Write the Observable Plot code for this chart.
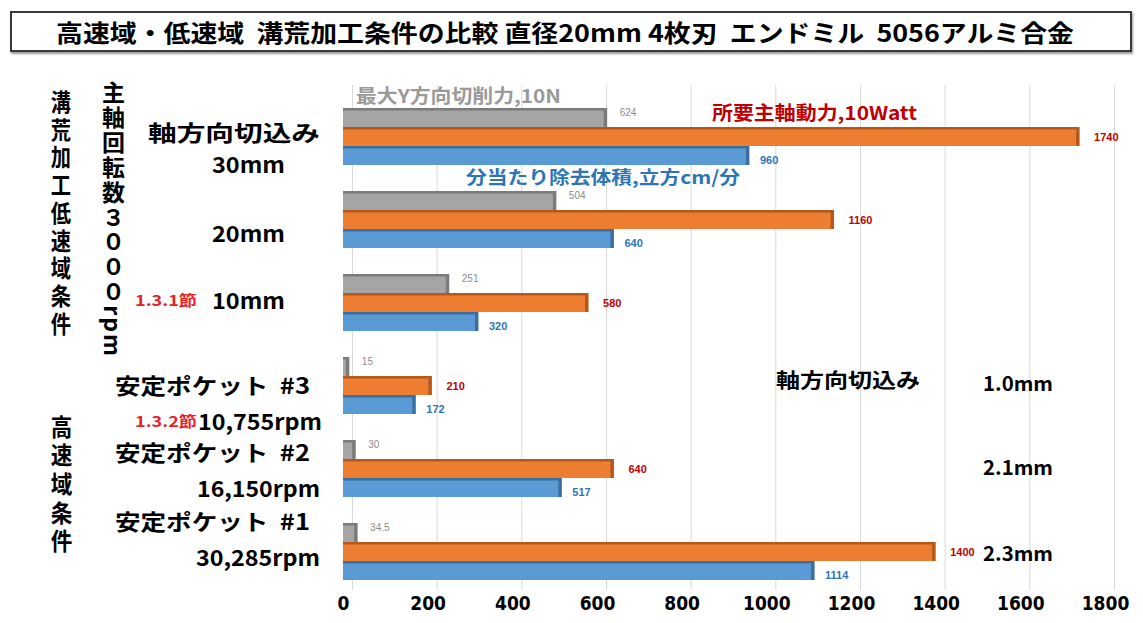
<!DOCTYPE html>
<html>
<head>
<meta charset="utf-8">
<script src="https://cdn.jsdelivr.net/npm/d3@7"></script>
<script src="https://cdn.jsdelivr.net/npm/@observablehq/plot@0.6"></script>
<style>
  body { margin: 0; background: #fff; font-family: "Noto Sans CJK JP", "Noto Sans", sans-serif; }
  #chart { position: relative; width: 1143px; height: 623px; overflow: hidden; background: #fff; }
  #chart svg { position: absolute; left: 0; top: 0; background: transparent; }
  .lbl { position: absolute; white-space: pre; line-height: 1; font-weight: 700; transform-origin: 0 50%; }
  .vlbl { position: absolute; white-space: pre; line-height: 1; font-weight: 700; writing-mode: vertical-rl; text-orientation: mixed; transform-origin: 50% 0; }
  #titlebox { position: absolute; left: 10px; top: 11px; width: 1118px; height: 37px; border: 2px solid #3a3a3a; box-shadow: 1px 2px 2px #9a9a9a; background: #fff; }
</style>
</head>
<body>
<div id="chart"><div id="titlebox"></div></div>
<script>
// ---- data ----
const title = "高速域・低速域  溝荒加工条件の比較 直径20mm 4枚刃  エンドミル  5056アルミ合金";
const groups = ["30mm", "20mm", "10mm", "#3", "#2", "#1"];
const seriesKeys = ["force", "power", "removal"];
const seriesNames = ["最大Y方向切削力,10N", "所要主軸動力,10Watt", "分当たり除去体積,立方cm/分"];
const maxForce = [624, 504, 251, 15, 30, 34.5];          // 10 N
const spindlePower = [1740, 1160, 580, 210, 640, 1400];  // 10 W
const removalRate = [960, 640, 320, 172, 517, 1114];     // cm³/min
const xTicks = [0, 200, 400, 600, 800, 1000, 1200, 1400, 1600, 1800];
const groupLabels = [
  ["軸方向切込み", "30mm"],
  ["", "20mm"],
  ["", "10mm"],
  ["安定ポケット  #3", "10,755rpm"],
  ["安定ポケット  #2", "16,150rpm"],
  ["安定ポケット  #1", "30,285rpm"]
];
const sectionRefs = ["1.3.1節", "1.3.2節"];
const lowSpeedTitle = "溝荒加工低速域条件";
const lowSpeedSpindle = "主軸回転数３０００rpm";
const highSpeedTitle = "高速域条件";
const axialDepthTitle = "軸方向切込み";
const axialDepths = ["1.0mm", "2.1mm", "2.3mm"];

// ---- styling ----
const face = {force: "#a5a5a5", power: "#ed7d31", removal: "#5b9bd5"};
const edge = {force: "#7b7b7b", power: "#b4581c", removal: "#3a6f9f"};
const valueColor = {force: "#8c8c8c", power: "#c00000", removal: "#2e75b6"};

const rows = groups.flatMap((g, i) => [
  {group: g, series: "force", value: maxForce[i]},
  {group: g, series: "power", value: spindlePower[i]},
  {group: g, series: "removal", value: removalRate[i]}
]);

const W = 1143, H = 623, ML = 343, MR = 38;
const chart = document.getElementById("chart");

// background: vertical gridlines and x tick labels
const grid = Plot.plot({
  width: W, height: H,
  marginLeft: ML, marginRight: MR, marginTop: 85, marginBottom: 33,
  x: {domain: [0, 1800], axis: null},
  y: {domain: [0, 1], axis: null},
  marks: [
    Plot.ruleX(xTicks, {x: d => d, stroke: "#d9d9d9", strokeWidth: 1, dx: 9}),
    Plot.text(xTicks, {
      x: d => d, text: d => String(d), frameAnchor: "bottom", dy: 19,
      fontSize: 19, fontWeight: 700, fill: "#000",
      fontFamily: "'Liberation Sans Narrow', 'DejaVu Sans Condensed', sans-serif"
    })
  ]
});
chart.appendChild(grid);

// foreground: grouped bars with a shaded top and right edge
const barOpts = {x: "value", y: "series", fy: "group"};
const marks = [];
for (const s of seriesKeys) {
  const data = rows.filter(d => d.series === s);
  marks.push(Plot.barX(data, {...barOpts, fill: edge[s]}));
  marks.push(Plot.barX(data, {...barOpts, fill: face[s], insetTop: 2.5, insetRight: 3.5}));
}
marks.push(Plot.text(rows.filter(d => d.series === "force"), {
  ...barOpts, text: d => String(d.value), textAnchor: "start", dx: 12, dy: -5,
  fontSize: 10, fill: valueColor.force, fontFamily: "'Liberation Sans', sans-serif"
}));
marks.push(Plot.text(rows.filter(d => d.series === "power"), {
  ...barOpts, text: d => String(d.value), textAnchor: "start", dx: 14, dy: 0,
  fontSize: 11, fontWeight: 700, fill: valueColor.power, fontFamily: "'Liberation Sans', sans-serif"
}));
marks.push(Plot.text(rows.filter(d => d.series === "removal"), {
  ...barOpts, text: d => String(d.value), textAnchor: "start", dx: 10, dy: 4,
  fontSize: 11, fontWeight: 700, fill: valueColor.removal, fontFamily: "'Liberation Sans', sans-serif"
}));

const bars = Plot.plot({
  width: W, height: H,
  marginLeft: ML, marginRight: MR, marginTop: 108, marginBottom: 42,
  x: {domain: [0, 1800], axis: null},
  y: {domain: seriesKeys, axis: null, padding: 0},
  fy: {domain: groups, axis: null, paddingInner: 0.31, paddingOuter: 0},
  marks
});
chart.appendChild(bars);

// ---- text annotations ----
function put(text, o) {
  const el = document.createElement("div");
  el.className = "lbl";
  el.textContent = text;
  el.style.fontSize = o.size + "px";
  el.style.color = o.color || "#000";
  if (o.family) el.style.fontFamily = o.family;
  if (o.weight) el.style.fontWeight = o.weight;
  chart.appendChild(el);
  const r = el.getBoundingClientRect();
  const sx = o.w ? o.w / r.width : 1;
  el.style.left = o.x + "px";
  el.style.top = (o.cy - r.height / 2) + "px";
  el.style.transform = `scaleX(${sx})`;
  return el;
}
function putV(text, o) {
  const el = document.createElement("div");
  el.className = "vlbl";
  el.textContent = text;
  el.style.fontSize = o.size + "px";
  el.style.color = o.color || "#000";
  if (o.spacing) el.style.letterSpacing = o.spacing + "px";
  chart.appendChild(el);
  const r = el.getBoundingClientRect();
  const sy = o.h / r.height;
  el.style.left = (o.cx - r.width / 2) + "px";
  el.style.top = o.y + "px";
  el.style.transform = `scaleX(${o.sx || 1}) scaleY(${sy})`;
  return el;
}

put(title, {x: 56, cy: 32, w: 1018, size: 24});

put(seriesNames[0], {x: 356, cy: 94, w: 205, size: 19, color: "#9a9a9a"});
put(seriesNames[1], {x: 712, cy: 111, w: 205, size: 19, color: "#c00000"});
put(seriesNames[2], {x: 466, cy: 176, w: 274, size: 18, color: "#2e75b6"});

put(groupLabels[0][0], {x: 148, cy: 131, w: 172, size: 22});
put(groupLabels[0][1], {x: 212, cy: 163, w: 73, size: 22});
put(groupLabels[1][1], {x: 212, cy: 232, w: 73, size: 22});
put(groupLabels[2][1], {x: 212, cy: 299, w: 73, size: 22});
put(sectionRefs[0], {x: 135, cy: 299, w: 62, size: 15, color: "#e8202a"});
put(groupLabels[3][0], {x: 115, cy: 384, w: 195, size: 22});
put(sectionRefs[1], {x: 135, cy: 420, w: 62, size: 15, color: "#e8202a"});
put(groupLabels[3][1], {x: 198, cy: 420, w: 124, size: 22});
put(groupLabels[4][0], {x: 115, cy: 451, w: 195, size: 22});
put(groupLabels[4][1], {x: 197, cy: 487, w: 123, size: 22});
put(groupLabels[5][0], {x: 115, cy: 520, w: 195, size: 22});
put(groupLabels[5][1], {x: 196, cy: 556, w: 124, size: 22});

put(axialDepthTitle, {x: 776, cy: 380, w: 144, size: 20});
put(axialDepths[0], {x: 983, cy: 383, w: 70, size: 20});
put(axialDepths[1], {x: 983, cy: 467, w: 70, size: 20});
put(axialDepths[2], {x: 983, cy: 553, w: 70, size: 20});

putV(lowSpeedTitle, {cx: 60, y: 90, h: 250, size: 23, spacing: 4, sx: 0.88});
putV(lowSpeedSpindle, {cx: 113, y: 81, h: 277, size: 23, spacing: 2});
putV(highSpeedTitle, {cx: 61, y: 415, h: 143, size: 24, spacing: 5, sx: 0.9});
</script>
</body>
</html>
